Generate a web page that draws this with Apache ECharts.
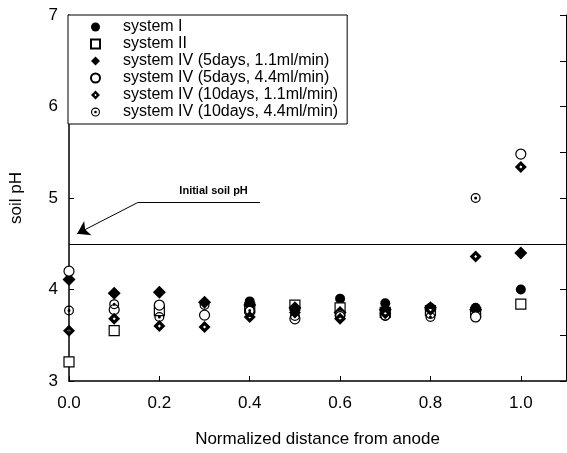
<!DOCTYPE html>
<html>
<head>
<meta charset="utf-8">
<script src="https://cdn.jsdelivr.net/npm/echarts@6/dist/echarts.min.js"></script>
<style>
  html, body { margin: 0; padding: 0; background: #fff; }
  #chart { width: 567px; height: 453px; }
</style>
</head>
<body>
<div id="chart"></div>
<script>
// normalized distance from anode
const distance = [0.0, 0.1, 0.2, 0.3, 0.4, 0.5, 0.6, 0.7, 0.8, 0.9, 1.0];

// soil pH (null = not visible)
const systemI     = [null, null, 3.76, null, 3.87, 3.78, 3.90, 3.85, 3.80, 3.80, 4.00];
const systemII    = [3.21, 3.55, 3.77, null, 3.80, 3.83, 3.80, 3.75, 3.77, 3.75, 3.84];
const sys4_5d_11  = [4.11, 3.96, 3.97, 3.86, 3.83, 3.80, 3.75, 3.78, 3.80, 3.78, 4.40];
const sys4_5d_44  = [4.20, 3.78, 3.83, 3.72, 3.76, 3.68, 3.72, 3.72, 3.74, 3.70, 5.48];
const sys4_10d_11 = [3.55, 3.68, 3.60, 3.59, 3.70, 3.75, 3.68, 3.74, 3.78, 4.36, 5.34];
const sys4_10d_44 = [3.77, 3.84, 3.70, 3.83, 3.77, 3.71, 3.71, 3.71, 3.70, 5.00, null];

const seriesNames = [
  'system I',
  'system II',
  'system IV (5days, 1.1ml/min)',
  'system IV (5days, 4.4ml/min)',
  'system IV (10days, 1.1ml/min)',
  'system IV (10days, 4.4ml/min)'
];

const initialPH = 4.5;

// marker shapes
const dotCircle = 'path://M0 -10 A10 10 0 1 1 0 10 A10 10 0 1 1 0 -10 Z M0 -7.5 A7.5 7.5 0 1 0 0 7.5 A7.5 7.5 0 1 0 0 -7.5 Z M0 -3 A3 3 0 1 1 0 3 A3 3 0 1 1 0 -3 Z';
const dotDiamond = 'path://M0 -10 L10 0 L0 10 L-10 0 Z M0 -2.6 L-2.6 0 L0 2.6 L2.6 0 Z';

function pairs(vals) {
  return distance.map((d, i) => [d, vals[i]]).filter(p => p[1] != null);
}

const font = 'Liberation Sans, Arial, Helvetica, sans-serif';
const solid = { color: '#000', opacity: 1 };
const hollow = { color: '#fff', borderColor: '#000', borderWidth: 1.2, opacity: 1 };

var myChart = echarts.init(document.getElementById('chart'));

myChart.setOption({
  animation: false,
  textStyle: { fontFamily: font, color: '#000' },
  grid: { left: 68, right: 1, top: 15, bottom: 68 },
  legend: {
    orient: 'vertical',
    left: 68,
    top: 15,
    padding: [4, 9, 4, 22],
    itemGap: 1,
    itemWidth: 9,
    itemHeight: 9,
    borderColor: '#000',
    borderWidth: 1,
    backgroundColor: '#fff',
    textStyle: { fontSize: 16, lineHeight: 14.6, color: '#000', fontFamily: font, padding: [0, 0, 0, 18] },
    data: seriesNames
  },
  xAxis: {
    type: 'value',
    min: 0,
    max: 1.1,
    interval: 0.2,
    name: 'Normalized distance from anode',
    nameLocation: 'middle',
    nameGap: 50,
    nameTextStyle: { fontSize: 17, color: '#000' },
    axisLine: { lineStyle: { color: '#000', width: 1.5 } },
    axisTick: { inside: true, length: 5, lineStyle: { color: '#000' } },
    axisLabel: { fontSize: 17, color: '#000', margin: 14, showMaxLabel: false, formatter: v => v.toFixed(1) },
    splitLine: { show: false }
  },
  yAxis: [{
    type: 'value',
    min: 3,
    max: 7,
    interval: 1,
    name: 'soil pH',
    nameLocation: 'middle',
    nameGap: 44,
    nameTextStyle: { fontSize: 17, color: '#000' },
    axisLine: { show: true, lineStyle: { color: '#000', width: 1.5 } },
    axisTick: { inside: true, length: 5, lineStyle: { color: '#000' } },
    axisLabel: { fontSize: 17, color: '#000', margin: 11 },
    splitLine: { show: false }
  }, {
    type: 'value',
    position: 'right',
    min: 3,
    max: 7,
    interval: 0.5,
    axisLine: { show: true, lineStyle: { color: '#000', width: 1 } },
    axisTick: { inside: true, length: 6, lineStyle: { color: '#000' } },
    axisLabel: { show: false },
    splitLine: { show: false }
  }],
  series: [
    {
      name: seriesNames[0], type: 'scatter', symbol: 'circle', symbolSize: 10,
      itemStyle: solid,
      data: pairs(systemI),
      markLine: {
        silent: true, symbol: 'none',
        lineStyle: { color: '#000', width: 1, type: 'solid' },
        label: { show: false },
        data: [{ yAxis: initialPH }]
      }
    },
    {
      name: seriesNames[1], type: 'scatter', symbol: 'rect', symbolSize: 10,
      itemStyle: hollow,
      data: pairs(systemII)
    },
    {
      name: seriesNames[2], type: 'scatter', symbol: 'diamond', symbolSize: 13,
      itemStyle: solid,
      data: pairs(sys4_5d_11)
    },
    {
      name: seriesNames[3], type: 'scatter', symbol: 'circle', symbolSize: 10,
      itemStyle: hollow,
      data: pairs(sys4_5d_44)
    },
    {
      name: seriesNames[4], type: 'scatter', symbol: dotDiamond, symbolSize: 12,
      itemStyle: solid,
      data: pairs(sys4_10d_11)
    },
    {
      name: seriesNames[5], type: 'scatter', symbol: dotCircle, symbolSize: 10,
      itemStyle: solid,
      data: pairs(sys4_10d_44),
      markLine: {
        silent: true,
        lineStyle: { color: '#000', width: 1, type: 'solid' },
        label: { show: false },
        data: [
          [{ coord: [0.152, 4.95], symbol: 'none' }, { coord: [0.423, 4.95], symbol: 'none' }],
          [{ coord: [0.152, 4.95], symbol: 'none' }, { coord: [0.018, 4.61], symbol: 'arrow', symbolSize: 12 }]
        ]
      },
      markPoint: {
        silent: true,
        symbol: 'circle', symbolSize: 0,
        label: {
          show: true, position: 'inside', color: '#000',
          fontSize: 11, fontWeight: 'bold', fontFamily: font,
          formatter: 'Initial soil pH'
        },
        data: [{ coord: [0.32, 5.08] }]
      }
    }
  ]
});
</script>
</body>
</html>
